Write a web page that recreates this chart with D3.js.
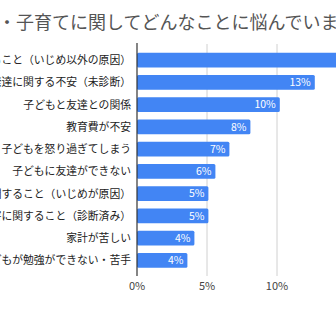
<!DOCTYPE html>
<html><head><meta charset="utf-8">
<script src="https://cdn.jsdelivr.net/npm/d3@7"></script>
<style>body{margin:0;background:#fff;}svg{display:block;}</style>
</head><body>
<script>
const categories = [
  "不登校に関すること（いじめ以外の原因）",
  "発達に関する不安（未診断）",
  "子どもと友達との関係",
  "教育費が不安",
  "子どもを怒り過ぎてしまう",
  "子どもに友達ができない",
  "不登校に関すること（いじめが原因）",
  "発達障害に関すること（診断済み）",
  "家計が苦しい",
  "子どもが勉強ができない・苦手"
];
const values = [16, 12.7, 10.2, 8.1, 6.6, 5.6, 5.1, 5.1, 4.1, 3.6];
const valueLabels = ["16%", "13%", "10%", "8%", "7%", "6%", "5%", "5%", "4%", "4%"];
const tickValues = [0, 5, 10, 15];
const tickLabels = ["0%", "5%", "10%", "15%"];
const title = "育児・子育てに関してどんなことに悩んでいますか？";

const W = 336, H = 336;
const svg = d3.select("body").append("svg").attr("width", W).attr("height", H);
const font = "'Noto Sans CJK JP', 'Noto Sans', sans-serif";

const x = d3.scaleLinear().domain([0, 5]).range([137, 207]);
const y = d3.scaleBand().domain(categories).range([49, 271.6]).paddingInner(0.34).paddingOuter(0.17);

// title
svg.append("text").attr("x", 19 - 18 * 3 - 3).attr("y", 29)
  .attr("font-family", font).attr("font-size", 18).attr("fill", "#555")
  .text(title);

// gridlines
svg.append("g").selectAll("line").data(tickValues.slice(1)).join("line")
  .attr("x1", d => x(d)).attr("x2", d => x(d))
  .attr("y1", 44).attr("y2", 276)
  .attr("stroke", "#d0d0d0").attr("stroke-width", 1);

// bars
svg.append("g").selectAll("rect").data(values).join("rect")
  .attr("x", x(0)).attr("y", (d, i) => y(categories[i]))
  .attr("width", d => x(d) - x(0)).attr("height", y.bandwidth())
  .attr("rx", 1.5).attr("fill", "#4285f4");

// value labels
svg.append("g").selectAll("text").data(values).join("text")
  .attr("x", d => x(d) - 4).attr("y", (d, i) => y(categories[i]) + y.bandwidth() / 2)
  .attr("dy", "0.36em").attr("text-anchor", "end")
  .attr("font-family", font).attr("font-size", 10.5).attr("fill", "#fff")
  .text((d, i) => valueLabels[i]);

// category labels
svg.append("g").selectAll("text").data(categories).join("text")
  .attr("x", 131).attr("y", d => y(d) + y.bandwidth() / 2)
  .attr("dy", "0.36em").attr("text-anchor", "end")
  .attr("font-family", font).attr("font-size", 10.8).attr("fill", "#222")
  .text(d => d);

// axis line
svg.append("line").attr("x1", x(0)).attr("x2", x(0)).attr("y1", 43).attr("y2", 276)
  .attr("stroke", "#333").attr("stroke-width", 1.2);

// x tick labels
svg.append("g").selectAll("text").data(tickValues).join("text")
  .attr("x", d => x(d)).attr("y", 286).attr("dy", "0.36em")
  .attr("text-anchor", "middle")
  .attr("font-family", font).attr("font-size", 11).attr("fill", "#444")
  .text((d, i) => tickLabels[i]);
</script>
</body></html>
